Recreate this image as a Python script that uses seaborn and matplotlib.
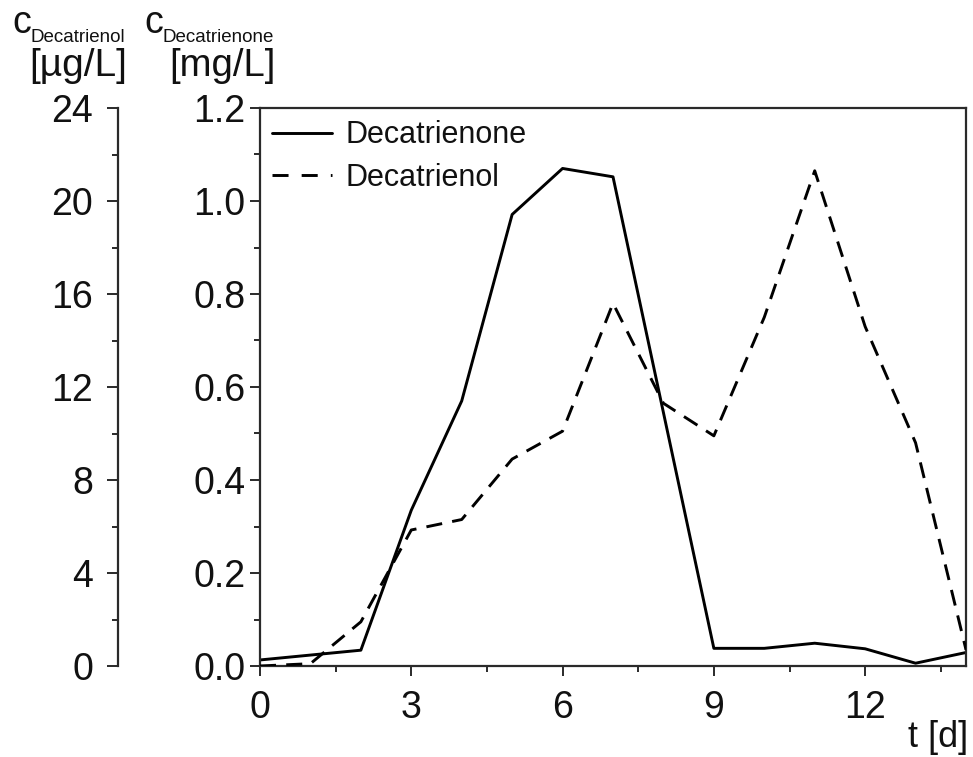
import matplotlib
matplotlib.use("Agg")
import matplotlib.pyplot as plt
import seaborn as sns
import pandas as pd
from matplotlib.ticker import MultipleLocator, FormatStrFormatter
from matplotlib.lines import Line2D

# ---- data ----
t_one = [0, 2, 3, 4, 5, 6, 7, 9, 10, 11, 12, 13, 14]
decatrienone_mg = [0.013, 0.034, 0.335, 0.57, 0.971, 1.070, 1.052, 0.038, 0.038, 0.049, 0.037, 0.006, 0.029]

t_ol = [0, 1, 2, 3, 4, 5, 6, 7, 8, 9, 10, 11, 12, 13, 14]
decatrienol_ug = [0.0, 0.1, 1.9, 5.85, 6.3, 8.9, 10.1, 15.6, 11.3, 9.9, 15.0, 21.3, 14.6, 9.6, 0.7]

x_major = [0, 3, 6, 9, 12]

sns.set_style("ticks")
plt.rcParams['font.family'] = ['Liberation Sans', 'DejaVu Sans']
plt.rcParams['text.color'] = '#111111'
plt.rcParams['xtick.labelcolor'] = '#111111'
plt.rcParams['ytick.labelcolor'] = '#111111'

W, H = 973, 757
fig = plt.figure(figsize=(W / 100, H / 100), dpi=100)
L, R, T, B = 260, 966, 108, 666
ax = fig.add_axes([L / W, (H - B) / H, (R - L) / W, (B - T) / H])

df1 = pd.DataFrame({"t": t_one, "c": decatrienone_mg})
df2 = pd.DataFrame({"t": t_ol, "c": decatrienol_ug})

sns.lineplot(data=df1, x="t", y="c", ax=ax, color="black", linewidth=2.1, legend=False)

ax2 = ax.twinx()
sns.lineplot(data=df2, x="t", y="c", ax=ax2, color="black", linewidth=2.1,
             dashes=False, legend=False)
for ln in ax2.get_lines():
    ln.set_dashes((5.5, 3.5))

spine_c = "#2a2a2a"
ax.set_xlim(0, 14)
ax.set_ylim(0, 1.2)
ax.set_xticks(x_major)
ax.xaxis.set_minor_locator(MultipleLocator(1.5))
ax.yaxis.set_major_locator(MultipleLocator(0.2))
ax.yaxis.set_minor_locator(MultipleLocator(0.1))
ax.yaxis.set_major_formatter(FormatStrFormatter("%.1f"))
ax.set_xlabel("")
ax.set_ylabel("")
for s in ax.spines.values():
    s.set_visible(True)
    s.set_linewidth(1.6)
    s.set_color(spine_c)
ax.tick_params(axis="both", which="major", length=7.5, width=1.4, color=spine_c,
               labelsize=27, direction="out")
ax.tick_params(axis="both", which="minor", length=4.5, width=1.4, color=spine_c, direction="out")
ax.tick_params(axis="x", which="major", pad=10)
ax.tick_params(axis="y", which="major", pad=3)

ax2.set_ylim(0, 24)
ax2.spines["left"].set_position(("axes", (118 - L) / (R - L)))
ax2.spines["left"].set_visible(True)
ax2.spines["left"].set_linewidth(1.6)
ax2.spines["left"].set_color(spine_c)
for k in ("right", "top", "bottom"):
    ax2.spines[k].set_visible(False)
ax2.yaxis.set_ticks_position("left")
ax2.yaxis.set_label_position("left")
ax2.yaxis.set_major_locator(MultipleLocator(4))
ax2.yaxis.set_minor_locator(MultipleLocator(2))
ax2.set_ylabel("")
ax2.set_xlabel("")
ax2.tick_params(axis="y", which="major", length=8, width=1.4, color=spine_c, labelsize=27, pad=10)
ax2.tick_params(axis="y", which="minor", length=4.5, width=1.4, color=spine_c)

handles = [Line2D([], [], color="black", linewidth=2.1),
           Line2D([], [], color="black", linewidth=2.1, dashes=(5.5, 4.5))]
leg = ax.legend(handles, ["Decatrienone", "Decatrienol"], loc="upper left",
                frameon=False, fontsize=22, handlelength=1.95, handletextpad=0.45,
                labelspacing=0.42, borderaxespad=0.15, borderpad=0.25)

# axis titles
fig.text(12 / W, 1 - 33 / H, "c", fontsize=27, va="baseline", ha="left")
fig.text(31 / W, 1 - 42 / H, "Decatrienol", fontsize=13.5, va="baseline", ha="left")
fig.text(78.5 / W, 1 - 76 / H, "[µg/L]", fontsize=28, va="baseline", ha="center")
fig.text(144 / W, 1 - 33 / H, "c", fontsize=27, va="baseline", ha="left")
fig.text(163 / W, 1 - 42 / H, "Decatrienone", fontsize=13.5, va="baseline", ha="left")
fig.text(222.5 / W, 1 - 76 / H, "[mg/L]", fontsize=27.5, va="baseline", ha="center")
fig.text(968 / W, 10 / H, "t [d]", fontsize=26, va="baseline", ha="right")

fig.savefig("out.png", dpi=100)
